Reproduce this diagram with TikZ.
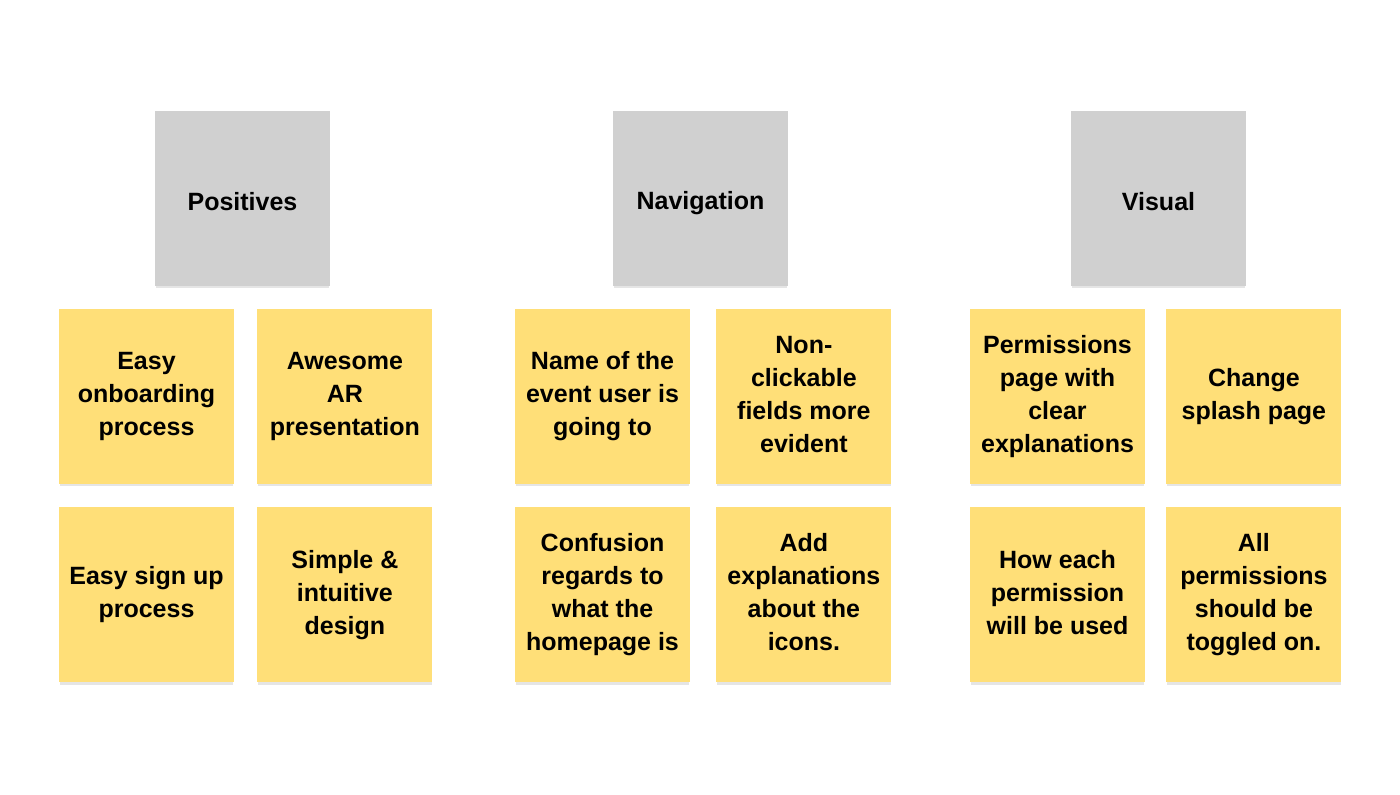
\documentclass[tikz,border=0pt]{standalone}
\usepackage{fontspec}
\setmainfont{Liberation Sans}
\usepackage{tikz}
\usetikzlibrary{positioning, shadows}
\definecolor{notegray}{HTML}{D0D0D0}
\definecolor{noteyellow}{HTML}{FFDF78}
\newcommand{\notestrut}{\rule[-5pt]{0pt}{33pt}}
\tikzset{
  note/.style={minimum width=175pt, minimum height=175pt, inner sep=0pt, align=center,
    font=\fontsize{25}{33}\selectfont\bfseries,
    execute at begin node=\notestrut, execute at end node=\notestrut,
    drop shadow={shadow xshift=0pt, shadow yshift=-3pt, shadow scale=0.99, opacity=0.10, fill=black}},
  header/.style={note, fill=notegray},
  idea/.style={note, fill=noteyellow}
}

\begin{document}
\begin{tikzpicture}[x=1pt, y=-1pt]
\useasboundingbox (0,0) rectangle (1400,795);
% headers
\node[header] (pos) at (242.5,198.5) {Positives};
\node[header] (nav) at (700.5,198.5) {Navigation};
\node[header] (vis) at (1158.5,198.5) {Visual};
% positives
\node[idea] (pos11) at (146.5,396.5) {Easy\\onboarding\\process};
\node[idea, right=23pt of pos11] (pos12) {Awesome\\AR\\presentation};
\node[idea, below=23pt of pos11] (pos21) {Easy sign up\\process};
\node[idea, below=23pt of pos12] (pos22) {Simple \&\\intuitive\\design};
% navigation
\node[idea] (nav11) at (602.5,396.5) {Name of the\\event user is\\going to};
\node[idea, right=26pt of nav11] (nav12) {Non-\\clickable\\fields more\\evident};
\node[idea, below=23pt of nav11] (nav21) {Confusion\\regards to\\what the\\homepage is};
\node[idea, below=23pt of nav12] (nav22) {Add\\explanations\\about the\\icons.};
% visual
\node[idea] (vis11) at (1057.5,396.5) {Permissions\\page with\\clear\\explanations};
\node[idea, right=21pt of vis11] (vis12) {Change\\splash page};
\node[idea, below=23pt of vis11] (vis21) {How each\\permission\\will be used};
\node[idea, below=23pt of vis12] (vis22) {All\\permissions\\should be\\toggled on.};
\end{tikzpicture}
\end{document}
